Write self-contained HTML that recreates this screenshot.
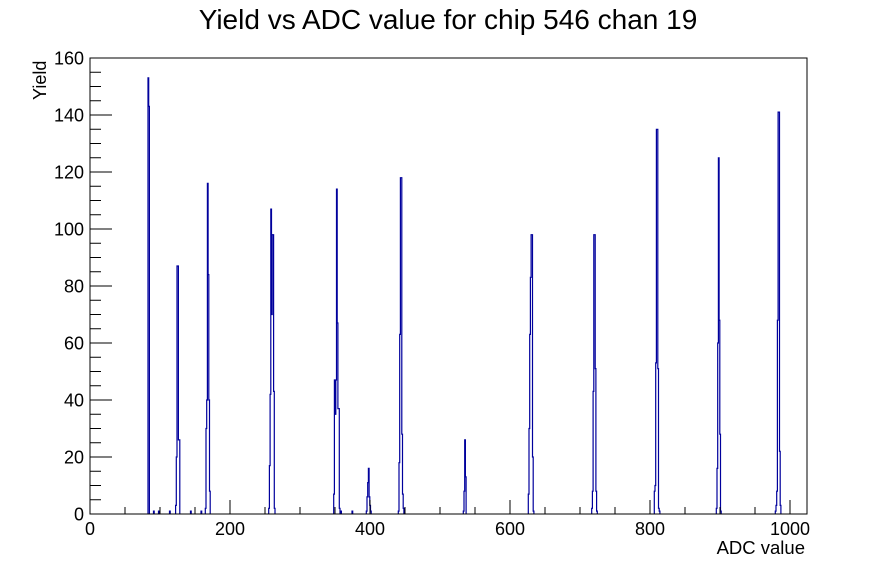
<!DOCTYPE html>
<html><head><meta charset="utf-8"><style>
html,body{margin:0;padding:0;background:#fff}
svg{display:block}
text{font-family:"Liberation Sans",sans-serif;fill:#000}
</style></head><body>
<svg id="s" width="896" height="572" viewBox="0 0 896 572" xmlns="http://www.w3.org/2000/svg">
<rect x="0" y="0" width="896" height="572" fill="#fff"/>
<text x="448" y="29" font-size="28" text-anchor="middle">Yield vs ADC value for chip 546 chan 19</text>
<path id="h" fill="none" stroke="#00009c" stroke-width="1.2" d=""/>
<rect x="90" y="58" width="717" height="456" fill="none" stroke="#000" stroke-width="1"/>
<g id="ticks" stroke="#000" stroke-width="1"></g>
<g id="lbl" font-size="18"></g>
<text transform="translate(46,100) rotate(-90)" font-size="18">Yield</text>
<text x="805" y="554" font-size="18.5" text-anchor="end">ADC value</text>
</svg>
<script>
var X=function(a){return 90+0.7*a},Y=function(c){return 514-2.85*c};
var peaks=[[147.0,[153,143]],[174.6,[3,20,87,87,26,26]],[204.3,[2,30,40,116,84,40,8]],
[267.7,[2,17,42,107,70,98,98,43,2]],[332.7,[7,47,35,47,114,67,37,37,2]],[365.3,[1,6,11,16,6,3,1]],
[397.3,[1,18,63,118,118,28,7,2]],[462.3,[1,8,26,13]],[527.3,[7,30,63,83,98,98,20,1]],
[590.7,[2,8,43,98,98,51,8,1]],[653.3,[8,10,53,135,135,51,2,1]],[715.3,[2,16,60,125,68,28,1]],
[774.3,[1,3,8,68,141,141,22,3]],
[152.5,[1]],[157.5,[1]],[168.5,[1]],[189.5,[1]],[200,[1]],[339.7,[1]],[351,[1]]];
var d="";
peaks.forEach(function(p){var x=p[0]+1;d+="M"+x.toFixed(1)+" 514";p[1].forEach(function(c){d+="V"+Y(c).toFixed(1)+"H"+(x+=0.7).toFixed(1);});d+="V514";});
document.getElementById('h').setAttribute('d',d);
var t="",l="";
for(var a=0;a<=1020;a+=50){var x=X(a);t+='<line x1="'+x+'" y1="514" x2="'+x+'" y2="'+(a%200==0?500:507)+'"/>';
if(a%200==0)l+='<text x="'+x+'" y="535" text-anchor="middle">'+a+'</text>';}
for(var c=0;c<=160;c+=5){var y=Y(c);t+='<line x1="90" y1="'+y+'" x2="'+(c%20==0?112:101)+'" y2="'+y+'"/>';
if(c%20==0)l+='<text x="84" y="'+(y+6.5)+'" text-anchor="end">'+c+'</text>';}
document.getElementById('ticks').innerHTML=t;document.getElementById('lbl').innerHTML=l;
</script>
</body></html>
